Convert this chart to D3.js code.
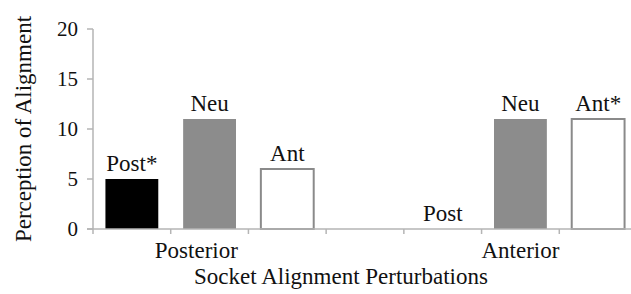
<!DOCTYPE html>
<html>
<head>
<meta charset="utf-8">
<script src="https://cdn.jsdelivr.net/npm/d3@7"></script>
<style>
  body { margin: 0; background: #fff; }
  .serif { font-family: 'Liberation Serif'; fill: #111; }
</style>
</head>
<body>
<script>
var width = 631, height = 294;

// slots along the x axis (one empty slot between the two groups)
var slots = ['P-Post', 'P-Neu', 'P-Ant', 'gap', 'A-Post', 'A-Neu', 'A-Ant'];
var barSlots = ['P-Post', 'P-Neu', 'P-Ant', 'A-Post', 'A-Neu', 'A-Ant'];
var barLabels = ['Post*', 'Neu', 'Ant', 'Post', 'Neu', 'Ant*'];
var barValues = [5, 11, 6, 0, 11, 11];
var barKinds = ['post', 'neu', 'ant', 'post', 'neu', 'ant'];
var groupNames = ['Posterior', 'Anterior'];
var groupPos = [0.83, 5];
var yTicks = [0, 5, 10, 15, 20];

var margin = { left: 93, top: 29, bottom: 65 };

var svg = d3.select("body")
  .append("svg")
  .attr("width", width)
  .attr("height", height);

var x = d3.scaleBand()
  .domain(slots)
  .range([margin.left, 637])
  .paddingInner(0.32)
  .paddingOuter(0.16);

var y = d3.scaleLinear()
  .domain([0, 20])
  .range([height - margin.bottom, margin.top]);

var slotIdx = d3.scaleLinear()
  .domain([0, slots.length - 1])
  .range([x(slots[0]) + x.bandwidth() / 2, x(slots[slots.length - 1]) + x.bandwidth() / 2]);

var fills = { post: "#000", neu: "#8c8c8c", ant: "#fff" };
var strokes = { post: "#000", neu: "#8c8c8c", ant: "#8a8a8a" };

// y axis, drawn by hand so no axis font defaults get in the way
var yAxis = svg.append("g");
yAxis.append("line")
  .attr("x1", margin.left).attr("x2", margin.left)
  .attr("y1", y(0)).attr("y2", y(20))
  .attr("stroke", "#b5b5b5").attr("stroke-width", 1.5);
yAxis.selectAll(".ytick")
  .data(yTicks).enter().append("line")
  .attr("x1", margin.left - 6).attr("x2", margin.left)
  .attr("y1", function(d) { return y(d); }).attr("y2", function(d) { return y(d); })
  .attr("stroke", "#b5b5b5").attr("stroke-width", 1.5);
yAxis.selectAll(".ylab")
  .data(yTicks).enter().append("text")
  .attr("class", "serif")
  .attr("x", margin.left - 15)
  .attr("y", function(d) { return y(d) + 7; })
  .attr("text-anchor", "end")
  .attr("font-size", 21)
  .text(function(d) { return d; });

// bars
svg.selectAll(".bar")
  .data(barValues)
  .enter()
  .append("rect")
  .attr("class", "bar")
  .attr("x", function(d, i) { return x(barSlots[i]); })
  .attr("width", x.bandwidth())
  .attr("y", function(d) { return y(d); })
  .attr("height", function(d) { return y(0) - y(d); })
  .attr("fill", function(d, i) { return fills[barKinds[i]]; })
  .attr("stroke", function(d, i) { return strokes[barKinds[i]]; })
  .attr("stroke-width", function(d, i) { return barKinds[i] == 'ant' ? 2 : 0; });

// x axis (slot boundaries as ticks)
var xLine = svg.append("g");
xLine.append("line")
  .attr("x1", margin.left - 6).attr("x2", width)
  .attr("y1", y(0)).attr("y2", y(0))
  .attr("stroke", "#b5b5b5").attr("stroke-width", 1.5);
var bounds = slots.map(function(s) { return x(s) - x.step() * x.paddingInner() / 2; });
bounds.push(bounds[bounds.length - 1] + x.step());
xLine.selectAll(".xtick")
  .data(bounds).enter().append("line")
  .attr("x1", function(d) { return d; }).attr("x2", function(d) { return d; })
  .attr("y1", y(0)).attr("y2", y(0) + 5)
  .attr("stroke", "#b5b5b5").attr("stroke-width", 1.5);

// bar labels
svg.selectAll(".blabel")
  .data(barValues)
  .enter()
  .append("text")
  .attr("class", "serif")
  .attr("x", function(d, i) { return x(barSlots[i]) + x.bandwidth() / 2; })
  .attr("y", function(d) { return y(d) - 8; })
  .attr("text-anchor", "middle")
  .attr("font-size", 23)
  .text(function(d, i) { return barLabels[i]; });

// group labels
svg.selectAll(".glabel")
  .data(groupNames)
  .enter()
  .append("text")
  .attr("class", "serif")
  .attr("x", function(d, i) { return slotIdx(groupPos[i]); })
  .attr("y", y(0) + 29)
  .attr("text-anchor", "middle")
  .attr("font-size", 23)
  .text(function(d) { return d; });

// axis titles
svg.append("text")
  .attr("class", "serif")
  .attr("x", 341).attr("y", 284)
  .attr("text-anchor", "middle")
  .attr("font-size", 23)
  .text("Socket Alignment Perturbations");

svg.append("text")
  .attr("class", "serif")
  .attr("transform", "translate(31,129) rotate(-90)")
  .attr("text-anchor", "middle")
  .attr("font-size", 23)
  .text("Perception of Alignment");
</script>
</body>
</html>
